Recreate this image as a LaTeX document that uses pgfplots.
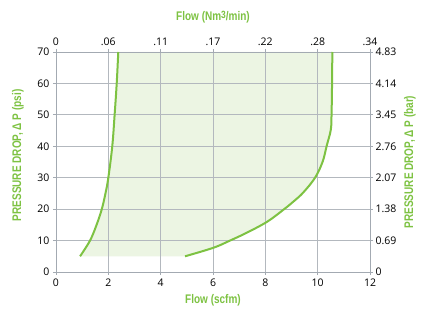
\documentclass[border=0pt]{standalone}
\usepackage{fontspec}
\setmainfont{Open Sans}
\newfontfamily\condfont[FakeStretch=0.8]{Liberation Sans Bold}
\usepackage{pgfplots}
\pgfplotsset{compat=1.18}
\definecolor{cgreen}{HTML}{7DC242}
\definecolor{cfill}{HTML}{ECF5E3}
\definecolor{cgrid}{HTML}{B3B8BE}
\definecolor{cframe}{HTML}{A3AAB2}
\pgfplotsset{
  base/.style={
    scale only axis, width=314pt, height=220pt,
    xmin=0, xmax=12, ymin=0, ymax=70,
    xtick={0,2,4,6,8,10,12}, ytick={0,10,20,30,40,50,60,70},
    tick align=outside, major tick length=3pt,
    every tick/.style={cframe, line width=0.8pt},
    axis line style={cframe, line width=0.9pt},
    tick label style={font=\fontsize{10.5}{12}\selectfont, text=black},
    /pgf/number format/assume math mode=true,
    label style={font=\condfont\fontsize{12.5}{14}\selectfont, text=cgreen},
  }
}
\begin{document}
\begin{tikzpicture}[x=1pt,y=1pt]
\useasboundingbox (-56,-36) rectangle (366,272);
\begin{axis}[base,
  axis on top,
  grid=major, grid style={cgrid, line width=0.8pt},
  xtick pos=left, ytick pos=left,
  xlabel={Flow (scfm)},
  ylabel={PRESSURE DROP, Δ P (psi)},
  xlabel style={at={(axis description cs:0.5,-0.127)}, anchor=center},
  ylabel style={at={(axis description cs:-0.121,0.53)}, anchor=center},
]
\addplot[draw=none, fill=cfill] coordinates {
(0.92,5) (1.30,10) (1.55,15) (1.75,20) (1.89,25) (2.00,30) (2.15,40) (2.24,50) (2.32,60) (2.38,70)
(10.56,70) (10.55,60) (10.53,50) (10.50,45.2) (10.34,40) (10.19,35.1) (9.90,30) (9.45,25.3) (9.10,22.6) (8.72,20) (8.07,16) (7.29,12.5) (6.65,10) (6.01,7.7) (4.93,5)
} -- cycle;
\end{axis}
\begin{axis}[base,
  axis x line*=top, axis y line*=right,
  xticklabels={0,.06,.11,.17,.22,.28,.34},
  yticklabels={0,0.69,1.38,2.07,2.76,3.45,4.14,4.83},
  yticklabel style={xshift=-1pt},
  xlabel={Flow (Nm\raisebox{2.5pt}{\fontsize{10.5}{10}\selectfont 3}/min)},
  ylabel={PRESSURE DROP, Δ P (bar)},
  xlabel style={at={(axis description cs:0.5,1.159)}, anchor=center},
  ylabel style={at={(axis description cs:1.127,0.5)}, anchor=center},
]
\addplot[cgreen, line width=2pt, smooth, tension=0.6] coordinates {
(0.92,5) (1.30,10) (1.55,15) (1.75,20) (1.89,25) (2.00,30) (2.15,40) (2.24,50) (2.32,60) (2.38,70)};
\addplot[cgreen, line width=2pt, smooth, tension=0.6] coordinates {
(4.93,5) (6.01,7.7) (6.65,10) (7.29,12.5) (8.07,16) (8.72,20) (9.10,22.6) (9.45,25.3) (9.90,30) (10.19,35.1) (10.34,40) (10.50,45.2) (10.53,50) (10.55,60) (10.56,70)};
\end{axis}
\end{tikzpicture}
\end{document}
